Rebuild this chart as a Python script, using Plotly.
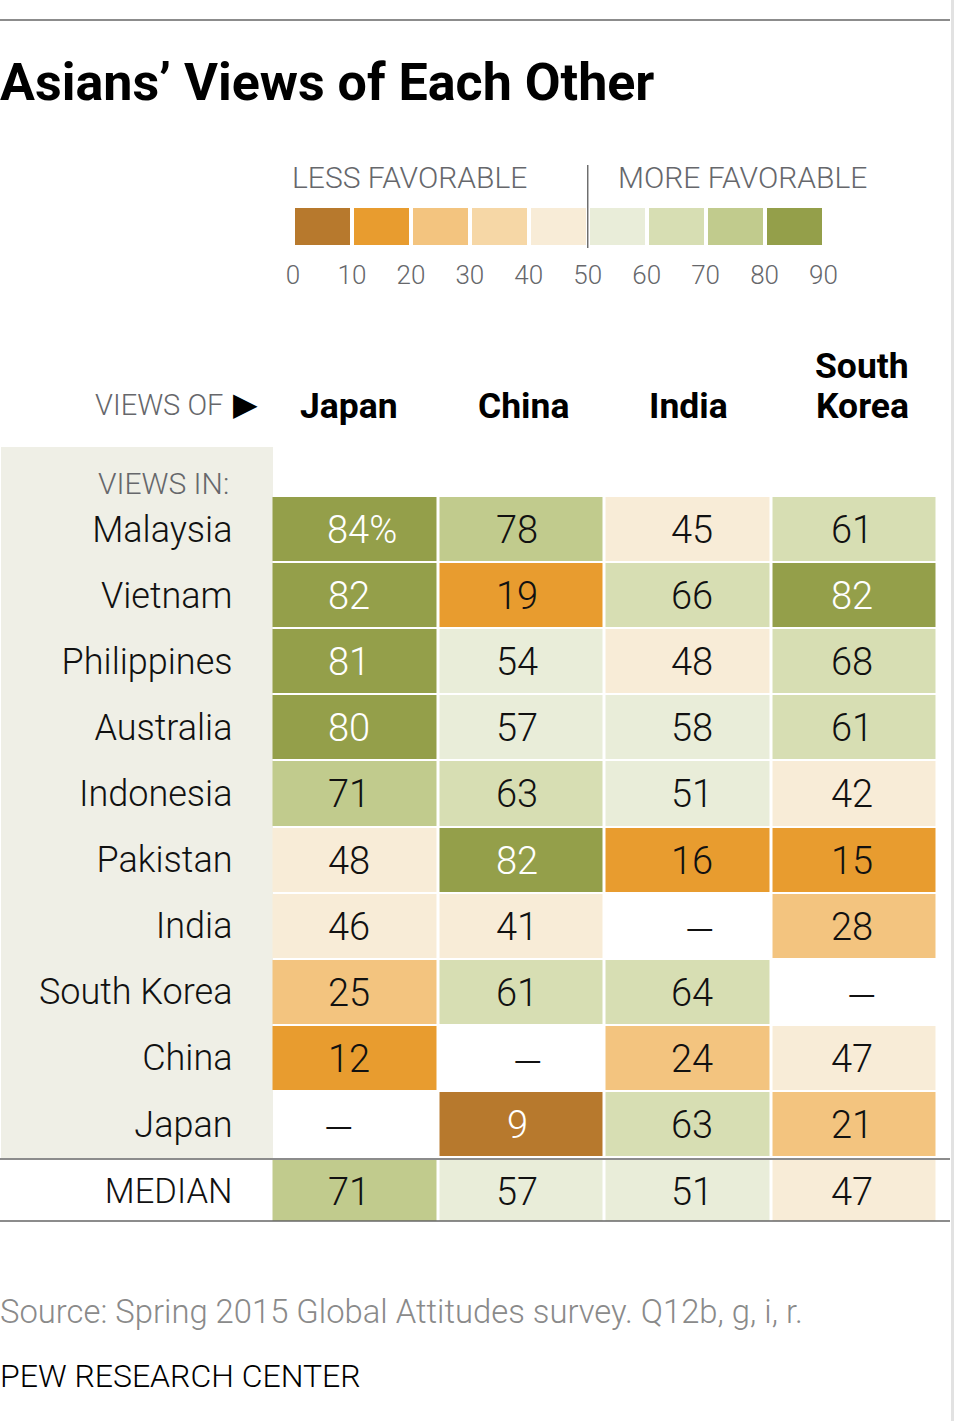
import plotly.graph_objects as go

W, H = 954, 1421

columns = ["Japan", "China", "India", "South Korea"]
rows = ["Malaysia", "Vietnam", "Philippines", "Australia", "Indonesia",
        "Pakistan", "India", "South Korea", "China", "Japan"]

japan = [84, 82, 81, 80, 71, 48, 46, 25, 12, None]
china = [78, 19, 54, 57, 63, 82, 41, 61, None, 9]
india = [45, 66, 48, 58, 51, 16, None, 64, 24, 63]
south_korea = [61, 82, 68, 61, 42, 15, 28, None, 47, 21]

median_label = "MEDIAN"
median_values = [71, 57, 51, 47]

legend_bins = [5, 15, 25, 35, 45, 55, 65, 75, 85]
legend_ticks = [0, 10, 20, 30, 40, 50, 60, 70, 80, 90]

bin_colors = ["#B7792D", "#E89C2F", "#F3C47F", "#F6D7A6", "#F8ECD7",
              "#E9EDD9", "#D7DEB3", "#C1CB8D", "#949F4A"]
BODY = "Roboto"
GREY = "#66676B"
INK = "#111111"

# stepped scale, one flat band per ten points
scale = []
for i, c in enumerate(bin_colors):
    scale.append([i / 9, c])
    scale.append([(i + 1) / 9, c])


def px(x):
    return x / W


def py(y):
    return 1 - y / H


grid = [[japan[i], china[i], india[i], south_korea[i]] for i in range(len(rows))]

fig = go.Figure()

fig.add_trace(go.Heatmap(z=grid, x=columns, y=rows, xaxis="x", yaxis="y",
                         zmin=0, zmax=90, colorscale=scale, showscale=False,
                         xgap=3, ygap=2, hoverinfo="skip"))
fig.add_trace(go.Heatmap(z=[median_values], x=columns, y=[median_label], xaxis="x2", yaxis="y2",
                         zmin=0, zmax=90, colorscale=scale, showscale=False,
                         xgap=3, ygap=0, hoverinfo="skip"))
fig.add_trace(go.Heatmap(z=[legend_bins], x=legend_bins, y=["scale"], xaxis="x3", yaxis="y3",
                         zmin=0, zmax=90, colorscale=scale, showscale=False,
                         xgap=4, ygap=0, hoverinfo="skip"))

x_domain = [px(271.5), px(937.5)]
fig.update_layout(
    width=W, height=H,
    margin=dict(l=0, r=0, t=0, b=0, autoexpand=False),
    paper_bgcolor="white", plot_bgcolor="rgba(0,0,0,0)",
    font=dict(family=BODY, color=INK),
    showlegend=False,
    xaxis=dict(domain=x_domain, showticklabels=False, ticks="", showgrid=False, zeroline=False),
    yaxis=dict(domain=[py(1157), py(496)], autorange="reversed", anchor="x", ticks="",
               showgrid=False, zeroline=False, ticklabelstandoff=38,
               tickfont=dict(size=36, color=INK, family=BODY, weight=300)),
    xaxis2=dict(domain=x_domain, showticklabels=False, ticks="", showgrid=False, zeroline=False,
                anchor="y2"),
    yaxis2=dict(domain=[py(1221), py(1160)], anchor="x2", ticks="", showgrid=False, zeroline=False,
                ticklabelstandoff=38, tickfont=dict(size=34.5, color=INK, family=BODY, weight=300)),
    xaxis3=dict(domain=[px(293), px(823.5)], range=[0, 90], anchor="y3", tickmode="array",
                tickvals=legend_ticks, ticktext=[str(t) for t in legend_ticks], ticks="",
                showgrid=False, zeroline=False, ticklabelstandoff=12,
                tickfont=dict(size=26, color=GREY, family=BODY, weight=300)),
    yaxis3=dict(domain=[py(245), py(208)], anchor="x3", showticklabels=False, ticks="",
                showgrid=False, zeroline=False),
)

rule = dict(color="#666666", width=1.5)
fig.update_layout(shapes=[
    dict(type="rect", xref="paper", yref="paper", x0=px(1), x1=px(273), y0=py(1158), y1=py(447),
         fillcolor="#EFEFE6", line_width=0, layer="below"),
    dict(type="rect", xref="paper", yref="paper", x0=px(951), x1=1, y0=0, y1=1,
         fillcolor="#E2E2E2", line_width=0, layer="below"),
    dict(type="line", xref="paper", yref="paper", x0=0, x1=px(950), y0=py(20), y1=py(20), line=rule),
    dict(type="line", xref="paper", yref="paper", x0=0, x1=px(950), y0=py(1159), y1=py(1159), line=rule),
    dict(type="line", xref="paper", yref="paper", x0=0, x1=px(950), y0=py(1221), y1=py(1221), line=rule),
    dict(type="line", xref="x3", yref="paper", x0=50, x1=50, y0=py(248), y1=py(165),
         line=dict(color="#6E6E6E", width=1.5)),
])

notes = []


def note(text, x, y, size, color=INK, anchor="left", weight=300, family=BODY):
    notes.append(dict(text=text, xref="paper", yref="paper",
                      x=px(x), y=py(y), xanchor=anchor, yanchor="middle", showarrow=False,
                      font=dict(size=size, color=color, family=family, weight=weight)))


note("Asians’ Views of Each Other", -2, 82, 52, "#000000", weight=700)
note("LESS FAVORABLE", 290, 178, 30, GREY)
note("MORE FAVORABLE", 616, 178, 30, GREY)
note("VIEWS OF", 225, 405, 29, GREY, anchor="right")
note("▶", 245.5, 404, 32, "#000000", anchor="center", weight=400, family="DejaVu Sans")
note("VIEWS IN:", 231, 484, 30, GREY, anchor="right")
note("Japan", 349, 406, 35.5, "#000000", anchor="center", weight=700)
note("China", 523, 406, 35.5, "#000000", anchor="center", weight=700)
note("India", 688, 406, 35.5, "#000000", anchor="center", weight=700)
note("South", 862, 366, 35.5, "#000000", anchor="center", weight=700)
note("Korea", 862, 406, 35.5, "#000000", anchor="center", weight=700)
note("Source: Spring 2015 Global Attitudes survey. Q12b, g, i, r.", -2, 1312, 32.8, "#8A8A8A")
note("PEW RESEARCH CENTER", -2, 1376, 32, "#000000")

# digits and dashes sit a little off the cell centre in the original, column by column
col_shift = {"Japan": -6, "China": -4, "India": 4, "South Korea": -2}
dash_shift = {"Japan": -16, "China": 6, "India": 12, "South Korea": 7}


def cell_note(col, row, value, xa, ya):
    first = row == rows[0] and col == columns[0]
    if value is None:
        text, shift, size, yshift = "—", dash_shift[col], 38, -5
        color = INK
    else:
        text = f"{value}%" if first else str(value)
        shift = col_shift[col] + (13 if first else 0)
        size, yshift = 38, -1
        color = "white" if value >= 80 or value < 10 else INK
    notes.append(dict(text=text, xref=xa, yref=ya, x=col, y=row, xshift=shift, yshift=yshift,
                      showarrow=False, font=dict(size=size, color=color, family=BODY, weight=300)))


for r, row in enumerate(rows):
    for c, col in enumerate(columns):
        cell_note(col, row, grid[r][c], "x", "y")
for c, col in enumerate(columns):
    cell_note(col, median_label, median_values[c], "x2", "y2")

fig.update_layout(annotations=notes)

fig.write_html("out.html", config={"displayModeBar": False},
               post_script="document.body.style.margin='0';")
